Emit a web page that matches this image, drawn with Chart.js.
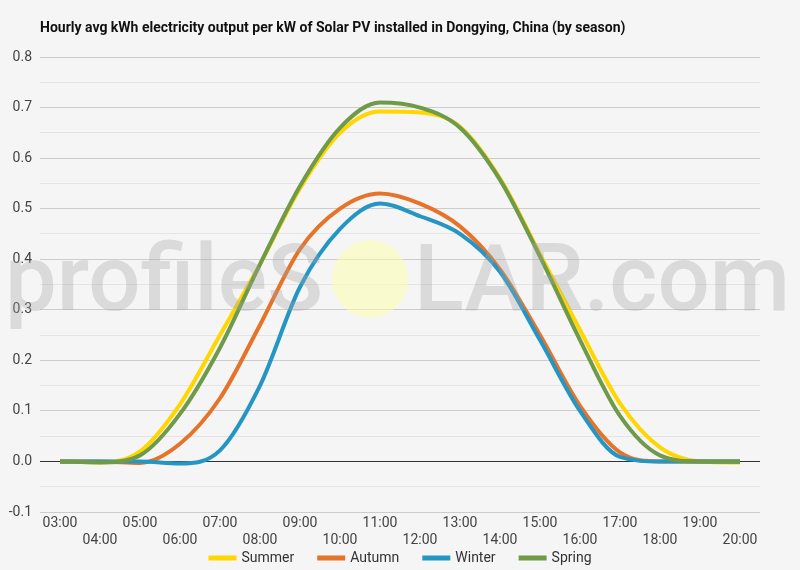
<!DOCTYPE html>
<html>
<head>
<meta charset="utf-8">
<script src="https://cdn.jsdelivr.net/npm/chart.js@4"></script>
<style>
  html, body { margin: 0; padding: 0; background: #f5f5f5; overflow: hidden; }
  #wrap { width: 800px; height: 570px; }
</style>
</head>
<body>
<div id="wrap"><canvas id="myChart" width="800" height="570"></canvas></div>
<script>
const title = 'Hourly avg kWh electricity output per kW of Solar PV installed in Dongying, China (by season)'
const hours = ['03:00', '04:00', '05:00', '06:00', '07:00', '08:00', '09:00', '10:00', '11:00',
  '12:00', '13:00', '14:00', '15:00', '16:00', '17:00', '18:00', '19:00', '20:00']
const seasons = ['Summer', 'Autumn', 'Winter', 'Spring']
const colors = ['#ffd600', '#e6732a', '#2596c4', '#6f9a4a']

const summer = [0, -0.002, 0.02, 0.113, 0.25, 0.39, 0.54, 0.65, 0.692, 0.69, 0.662, 0.56, 0.41, 0.26, 0.115, 0.028, 0.0, -0.002]
const autumn = [0, 0, -0.003, 0.035, 0.125, 0.27, 0.42, 0.5, 0.53, 0.51, 0.465, 0.38, 0.25, 0.11, 0.018, 0, 0, 0]
const winter = [0, 0, 0, -0.004, 0.022, 0.15, 0.345, 0.46, 0.51, 0.485, 0.45, 0.375, 0.24, 0.1, 0.009, 0, 0, 0]
const spring = [0, -0.002, 0.012, 0.094, 0.225, 0.39, 0.545, 0.66, 0.71, 0.7, 0.66, 0.557, 0.405, 0.24, 0.09, 0.012, 0, 0]

const yMin = -0.1
const yMax = 0.8
const yStep = 0.05

const series = [summer, autumn, winter, spring]

// every second hour label goes on a second row
const xLabels = hours.map((h, i) => (i % 2 === 0 ? [h] : ['', h]))

const isMajor = v => Math.abs(Math.round(v * 100)) % 10 === 0

const background = {
  id: 'background',
  beforeDraw(chart) {
    const c = chart.ctx
    c.save()
    c.fillStyle = '#f5f5f5'
    c.fillRect(0, 0, chart.width, chart.height)
    c.restore()
  },
  afterDraw(chart) {
    const c = chart.ctx
    c.save()
    c.font = 'bold 14px Roboto'
    c.fillStyle = '#111'
    c.textBaseline = 'middle'
    c.fillText(title, 40, 28)

    // legend: line swatch + label, centred under the plot
    c.font = '14px Roboto'
    const items = chart.data.datasets.map(ds => ({
      text: ds.label, color: ds.borderColor, w: 28 + 5 + c.measureText(ds.label).width
    }))
    const gap = 23
    const total = items.reduce((s, it) => s + it.w, 0) + gap * (items.length - 1)
    let x = 400 - total / 2
    const y = 558
    items.forEach(it => {
      c.fillStyle = it.color
      c.fillRect(x, y - 2.5, 28, 5)
      c.fillStyle = '#333'
      c.fillText(it.text, x + 33, y)
      x += it.w + gap
    })
    c.restore()
  }
}

// faded site watermark over the plot
const watermark = {
  id: 'watermark',
  afterDatasetsDraw(chart) {
    const c = chart.ctx
    c.save()
    c.font = '500 92px Roboto'
    const w1 = c.measureText('profileS').width
    const w2 = c.measureText('LAR.com').width
    const gap = 91
    const sx = (785 - gap) / (w1 + w2)
    c.fillStyle = 'rgba(165,165,165,0.33)'
    c.textBaseline = 'alphabetic'
    c.save()
    c.translate(5, 310)
    c.scale(sx, 1)
    c.fillText('profileS', 0, 0)
    c.restore()
    c.save()
    c.translate(5 + w1 * sx + gap, 310)
    c.scale(sx, 1)
    c.fillText('LAR.com', 0, 0)
    c.restore()
    c.beginPath()
    c.ellipse(370, 279, 38, 39, 0, 0, Math.PI * 2)
    c.fillStyle = 'rgba(255,255,170,0.5)'
    c.fill()
    c.restore()
  }
}

const ctx = document.getElementById('myChart')

new Chart(ctx, {
  type: 'line',
  data: {
    labels: xLabels,
    datasets: series.map((d, i) => ({
      label: seasons[i],
      data: d,
      borderColor: colors[i],
      backgroundColor: colors[i],
      borderWidth: 4,
      pointRadius: 0,
      cubicInterpolationMode: 'monotone',
      fill: false,
      order: series.length - 1 - i
    }))
  },
  options: {
    responsive: false,
    animation: false,
    layout: { padding: { top: 57, right: 40, left: 0, bottom: 18 } },
    plugins: {
      legend: { display: false },
      tooltip: { enabled: false }
    },
    scales: {
      x: {
        offset: true,
        grid: { display: false, drawTicks: false },
        border: { display: false },
        ticks: {
          autoSkip: false,
          maxRotation: 0,
          padding: 3,
          color: '#444',
          font: { family: 'Roboto', size: 14, lineHeight: 1.2 }
        },
        afterFit: scale => { scale.height = 40 }
      },
      y: {
        min: yMin,
        max: yMax,
        border: { display: false },
        grid: {
          drawTicks: false,
          color: c => {
            const v = c.tick.value
            if (Math.abs(v) < 1e-9) return '#333'
            return isMajor(v) ? '#cccccc' : '#e4e4e4'
          }
        },
        ticks: {
          stepSize: yStep,
          padding: 8,
          color: '#444',
          font: { family: 'Roboto', size: 14 },
          callback: v => (isMajor(v) ? v.toFixed(1) : '')
        },
        afterFit: scale => { scale.width = 40 }
      }
    }
  },
  plugins: [background, watermark]
})
</script>
</body>
</html>
